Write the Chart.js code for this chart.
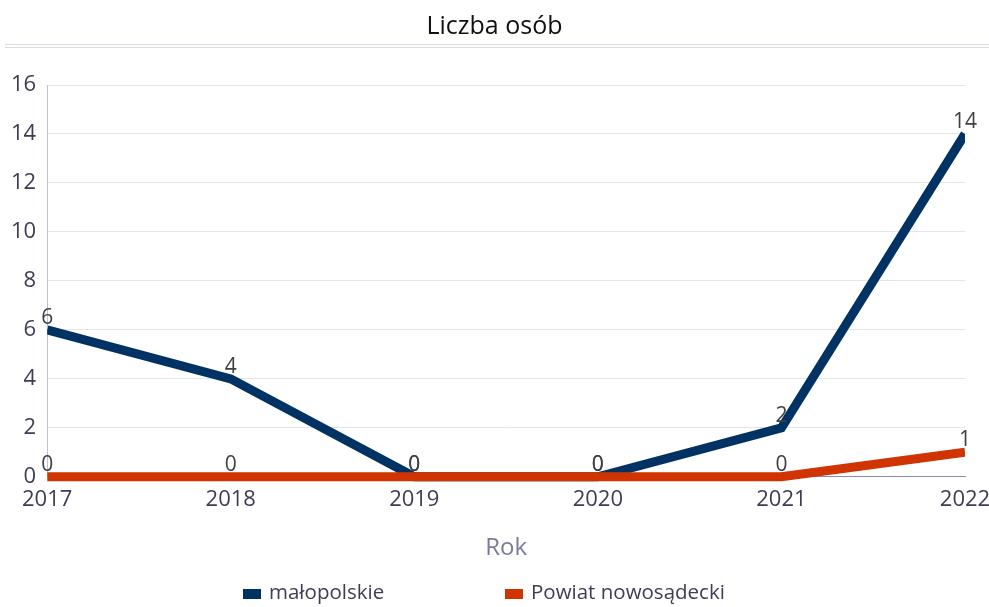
<!DOCTYPE html>
<html>
<head>
<meta charset="utf-8">
<script src="https://cdn.jsdelivr.net/npm/chart.js@4.4.1/dist/chart.umd.min.js"></script>
<style>
  html, body { margin: 0; padding: 0; background: #fff; }
  #wrap { width: 989px; height: 607px; }
</style>
</head>
<body>
<div id="wrap"><canvas id="lineChart"></canvas></div>
<script>
const years = ['2017', '2018', '2019', '2020', '2021', '2022'];
const malopolskie = [6, 4, 0, 0, 2, 14];
const nowosadecki = [0, 0, 0, 0, 0, 1];
const seriesNames = ['małopolskie', 'Powiat nowosądecki'];
const seriesColors = ['#003264', '#cf3402'];

const FONT = '"Open Sans", "Noto Sans", sans-serif';

// labels above points, title rule and legend drawn by hand
const extras = {
  id: 'extras',
  afterDatasetsDraw(chart) {
    const ctx = chart.ctx;
    ctx.save();
    ctx.font = '21px ' + FONT;
    ctx.fillStyle = '#404040';
    ctx.textAlign = 'center';
    ctx.textBaseline = 'middle';
    chart.data.datasets.forEach((ds, i) => {
      chart.getDatasetMeta(i).data.forEach((pt, j) => {
        ctx.fillText(String(ds.data[j]), pt.x, pt.y - 12);
      });
    });
    ctx.restore();
  },
  afterDraw(chart) {
    const ctx = chart.ctx;
    ctx.save();
    ctx.strokeStyle = '#dcdce4';
    ctx.lineWidth = 1;
    ctx.beginPath();
    ctx.moveTo(5, 44.5); ctx.lineTo(989, 44.5);
    ctx.moveTo(5, 47.5); ctx.lineTo(989, 47.5);
    ctx.stroke();

    ctx.font = '20.5px ' + FONT;
    ctx.textBaseline = 'middle';
    ctx.textAlign = 'left';
    const xs = [243, 505];
    seriesNames.forEach((name, i) => {
      ctx.fillStyle = seriesColors[i];
      ctx.fillRect(xs[i], 589, 18, 10);
      ctx.fillStyle = '#3d3d55';
      ctx.fillText(name, xs[i] + 26, 593);
    });
    ctx.restore();
  }
};

const ctxLine = document.getElementById('lineChart').getContext('2d');
new Chart(ctxLine, {
  type: 'line',
  data: {
    labels: years,
    datasets: [{
      label: seriesNames[0],
      data: malopolskie,
      borderColor: seriesColors[0],
      backgroundColor: seriesColors[0],
      borderWidth: 9,
      pointRadius: 0,
      tension: 0,
      order: 1,
      clip: { left: 0, right: 0, top: 10, bottom: 10 }
    }, {
      label: seriesNames[1],
      data: nowosadecki,
      borderColor: seriesColors[1],
      backgroundColor: seriesColors[1],
      borderWidth: 9,
      pointRadius: 0,
      tension: 0,
      order: 0,
      clip: { left: 0, right: 0, top: 10, bottom: 10 }
    }]
  },
  options: {
    responsive: true,
    maintainAspectRatio: false,
    animation: false,
    layout: { padding: { left: 0, right: 0, top: 0, bottom: 44 } },
    plugins: {
      legend: { display: false },
      tooltip: { enabled: false },
      title: {
        display: true,
        text: 'Liczba osób',
        color: '#111',
        font: { family: FONT, size: 25, weight: 'normal' },
        padding: { top: 12, bottom: 43 }
      }
    },
    scales: {
      x: {
        offset: false,
        grid: { display: false, drawTicks: false },
        border: { display: true, color: '#8a8aaa', width: 1 },
        ticks: { color: '#3d3d55', font: { family: FONT, size: 22 }, padding: 10, maxRotation: 0 },
        afterFit(scale) { scale.paddingRight = 24; },
        title: {
          display: true,
          text: 'Rok',
          color: '#7b7b9e',
          font: { family: FONT, size: 24 },
          padding: { top: 11, bottom: 0 }
        }
      },
      y: {
        min: 0,
        max: 16,
        grid: { color: '#e4e4ec', drawTicks: false },
        border: { display: true, color: '#c0c0d4', width: 1 },
        ticks: { stepSize: 2, color: '#3d3d55', font: { family: FONT, size: 22 }, padding: 11 }
      }
    }
  },
  plugins: [extras]
});
</script>
</body>
</html>
